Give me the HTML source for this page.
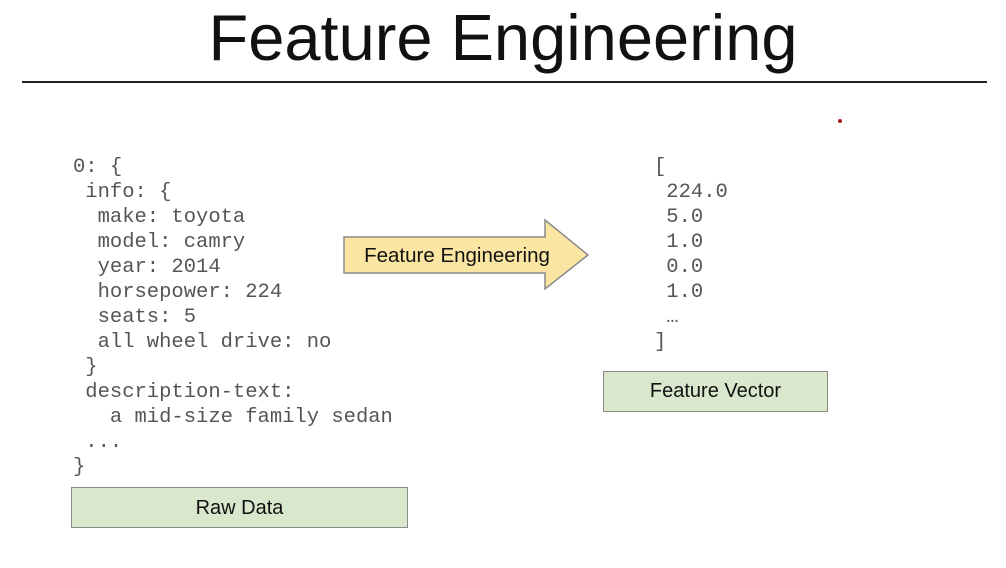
<!DOCTYPE html>
<html><head><meta charset="utf-8"><style>
body{margin:0;width:1006px;height:568px;background:#fff;position:relative;overflow:hidden;font-family:"Liberation Sans",sans-serif}
.t{position:absolute;left:0;width:1006px;text-align:center;top:3px;font-size:65px;color:#111;line-height:70px}
.hr{position:absolute;left:22px;top:81px;width:965px;height:2px;background:#222}
.mono{position:absolute;font-family:"Liberation Mono",monospace;font-size:20.5px;line-height:25px;color:#555;white-space:pre}
.box{position:absolute;background:#d9e7cd;border:1.5px solid #8a8a8a;box-sizing:border-box;text-align:center;font-size:20px;color:#111}
</style></head><body>
<div class="t">Feature Engineering</div>
<div class="hr"></div>
<div style="position:absolute;left:838px;top:119px;width:4px;height:4px;border-radius:2px;background:#a01818"></div>
<div class="mono" style="left:73px;top:155px">0: {
 info: {
  make: toyota
  model: camry
  year: 2014
  horsepower: 224
  seats: 5
  all wheel drive: no
 }
 description-text:
   a mid-size family sedan
 ...
}</div>
<div class="mono" style="left:654px;top:155px">[
 224.0
 5.0
 1.0
 0.0
 1.0
 …
]</div>
<svg style="position:absolute;left:0;top:0" width="1006" height="568">
<polygon points="344,237 545,237 545,220 588,255 545,289 545,273 344,273" fill="#fbe5a3" stroke="#8a8a8a" stroke-width="1.5"/>
<text x="457" y="262" text-anchor="middle" font-family="Liberation Sans" font-size="20.5" fill="#111">Feature Engineering</text>
</svg>
<div class="box" style="left:603px;top:371px;width:225px;height:41px;line-height:38px">Feature Vector</div>
<div class="box" style="left:71px;top:487px;width:337px;height:41px;line-height:40px">Raw Data</div>
</body></html>
